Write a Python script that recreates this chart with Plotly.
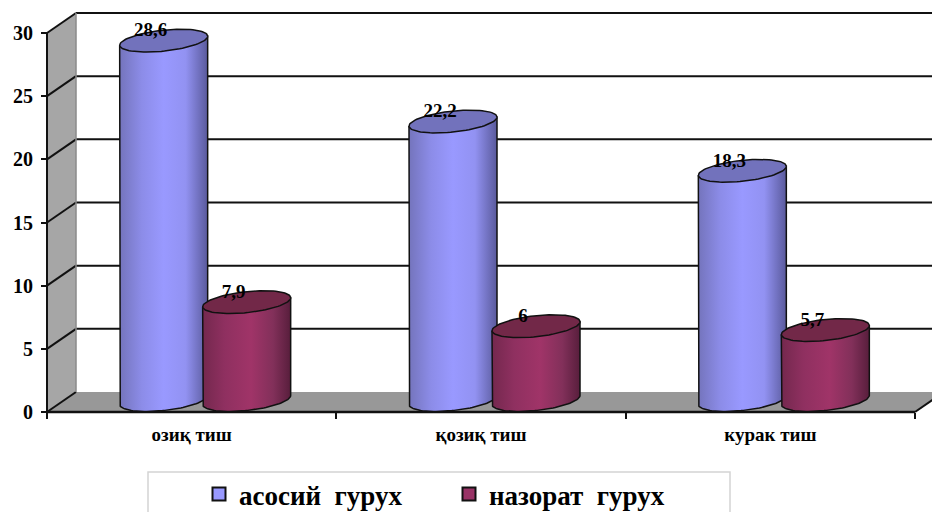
import numpy as np
import plotly.graph_objects as go

# Chart data
categories = ["озиқ тиш", "қозиқ тиш", "курак тиш"]
main_group = [28.6, 22.2, 18.3]
control_group = [7.9, 6, 5.7]
main_labels = ["28,6", "22,2", "18,3"]
control_labels = ["7,9", "6", "5,7"]
y_ticks = [0, 5, 10, 15, 20, 25, 30]

WIDTH, HEIGHT = 932, 512
FRONT_LEFT, FRONT_RIGHT = 47, 915    # front edge of the floor, pixels
FRONT_BASE, FRONT_TOP = 412, 33      # value 0 and value 30 on the front plane
PX_X = (FRONT_RIGHT - FRONT_LEFT) / 3
PX_Y = (FRONT_BASE - FRONT_TOP) / 30

# Oblique depth of the chart box and cylinder proportions, in pixels
DEPTH_X, DEPTH_Y = 29, 20
BAR_DEPTH_SHIFT = 13.5
BAR_OFFSET, BAR_HALF = 41.5, 44
TILT, MINOR = 4.5, 10.5
BASE_LIFT = 2


def cx(px):
    return px / PX_X


def cy(px):
    return px / PX_Y


DX, DY = cx(DEPTH_X), cy(DEPTH_Y)
X0, X1 = -0.5, 2.5

fig = go.Figure()


def polygon(xs, ys, fill, line=None, width=1.5):
    fig.add_trace(go.Scatter(
        x=list(xs), y=list(ys), mode="lines", fill="toself", fillcolor=fill,
        line=dict(color=line or fill, width=width if line else 0),
        showlegend=False, hoverinfo="skip"))


def stroke(xs, ys, width=2, color="#111111"):
    fig.add_trace(go.Scatter(
        x=xs, y=ys, mode="lines", line=dict(color=color, width=width),
        showlegend=False, hoverinfo="skip"))


# Side wall and floor of the box
polygon([X0, X0 + DX, X0 + DX, X0, X0], [0, DY, 30 + DY, 30, 0], "#a6a6a6")
polygon([X0, X0 + DX, X1 + DX, X1, X0], [0, DY, DY, 0, 0], "#989898")

# Gridlines across the back wall and down the side wall
for v in y_ticks:
    if v > 0:
        stroke([X0 + DX, X1 + DX], [v + DY, v + DY])
    stroke([X0, X0 + DX], [v, v + DY])
stroke([X0 + DX, X0 + DX], [DY, 30 + DY], width=1.5, color="#8a8a8a")
stroke([X1, X1 + DX], [0, DY])

# Axis lines on the front plane
stroke([X0, X0], [0, 30])
stroke([X0, X1], [0, 0], width=2.5)


def ellipse_point(t):
    """Offset from an ellipse centre: right in pixels, and up in pixels."""
    return BAR_HALF * np.cos(t), TILT * np.cos(t) + MINOR * np.sin(t)


def cylinder(cat, shift, value, stops, top_color):
    """Draw one cylinder; all vertical positions derive from its value."""
    centre = cat + cx(BAR_DEPTH_SHIFT + shift)
    top_mid = value + DY / 2
    base_mid = DY / 2 + cy(BASE_LIFT)

    # Body: straight sides plus the front arc of the base
    t = np.linspace(np.pi, 2 * np.pi, 60)
    dx, up = ellipse_point(t)
    xs = [centre - cx(BAR_HALF), *(centre + cx(dx)), centre + cx(BAR_HALF)]
    ys = [top_mid - cy(TILT), *(base_mid + cy(up)), top_mid + cy(TILT)]
    fig.add_trace(go.Scatter(
        x=xs + xs[:1], y=ys + ys[:1], mode="lines", fill="toself",
        fillgradient=dict(type="horizontal", colorscale=stops),
        line=dict(color="#111111", width=1.5),
        showlegend=False, hoverinfo="skip"))

    # Top cap
    t = np.linspace(0, 2 * np.pi, 90)
    dx, up = ellipse_point(t)
    polygon(centre + cx(dx), top_mid + cy(up), top_color, "#111111", 1.5)


BLUE_STOPS = [[0, "#7474bc"], [0.25, "#8c8ce8"], [0.5, "#9999ff"], [0.75, "#9292f2"], [1, "#5a5a9c"]]
RED_STOPS = [[0, "#74284e"], [0.25, "#8f3060"], [0.55, "#a03468"], [0.8, "#82305a"], [1, "#581e3c"]]

for i in range(len(categories)):
    cylinder(i, -BAR_OFFSET, main_group[i], BLUE_STOPS, "#7272bc")
    cylinder(i, BAR_OFFSET, control_group[i], RED_STOPS, "#722848")

# Value labels sit over the back of each cap
for shift, values, labels in [(-BAR_OFFSET, main_group, main_labels),
                              (BAR_OFFSET, control_group, control_labels)]:
    fig.add_trace(go.Scatter(
        x=[i + cx(BAR_DEPTH_SHIFT + shift - 13) for i in range(3)],
        y=[v + DY / 2 + cy(9) for v in values],
        text=labels, mode="text", textposition="middle center",
        textfont=dict(family="Liberation Serif", size=19, color="#000000", weight="bold"),
        showlegend=False, hoverinfo="skip"))

# Legend entries
fig.add_trace(go.Scatter(
    x=[None], y=[None], mode="markers", name="асосий\u00a0 гурух",
    marker=dict(symbol="square", size=13, color="#9999ff", line=dict(color="#111111", width=2))))
fig.add_trace(go.Scatter(
    x=[None], y=[None], mode="markers", name="назорат\u00a0 гурух",
    marker=dict(symbol="square", size=13, color="#993366", line=dict(color="#111111", width=2))))

fig.update_layout(
    width=WIDTH, height=HEIGHT,
    margin=dict(l=0, r=0, t=0, b=0, autoexpand=False),
    paper_bgcolor="white", plot_bgcolor="white",
    font=dict(family="Liberation Serif", color="#000000"),
    xaxis=dict(
        range=[X0 - FRONT_LEFT / PX_X, X0 + (WIDTH - FRONT_LEFT) / PX_X],
        anchor="free", position=(HEIGHT - FRONT_BASE) / HEIGHT,
        tickmode="array", tickvals=[0, 1, 2], ticktext=categories,
        ticks="", showgrid=False, zeroline=False, showline=False,
        tickfont=dict(size=19, weight="bold"), ticklabelstandoff=9,
        minor=dict(tickmode="array", tickvals=[-0.5, 0.5, 1.5, 2.5], ticks="outside",
                   ticklen=6, tickwidth=1.5, tickcolor="#111111", showgrid=False)),
    yaxis=dict(
        range=[-(HEIGHT - FRONT_BASE) / PX_Y, FRONT_BASE / PX_Y],
        anchor="free", position=FRONT_LEFT / WIDTH,
        tickmode="array", tickvals=y_ticks,
        ticks="outside", ticklen=6, tickwidth=1.5, tickcolor="#111111",
        showgrid=False, zeroline=False, showline=False,
        tickfont=dict(size=20, weight="bold"), ticklabelstandoff=4),
    showlegend=True,
    legend=dict(
        orientation="h", x=199 / WIDTH, xanchor="left", y=1 - 470 / HEIGHT, yanchor="top",
        bgcolor="rgba(0,0,0,0)", borderwidth=0, entrywidth=205, entrywidthmode="pixels",
        font=dict(size=27, weight="bold", family="Liberation Serif"), itemclick=False),
    shapes=[dict(type="rect", xref="paper", yref="paper",
                 x0=148 / WIDTH, x1=730 / WIDTH,
                 y0=-0.05, y1=1 - 472 / HEIGHT,
                 line=dict(color="#d4d4d4", width=1.5))],
)

fig.write_html("out.html", config={"displayModeBar": False})
